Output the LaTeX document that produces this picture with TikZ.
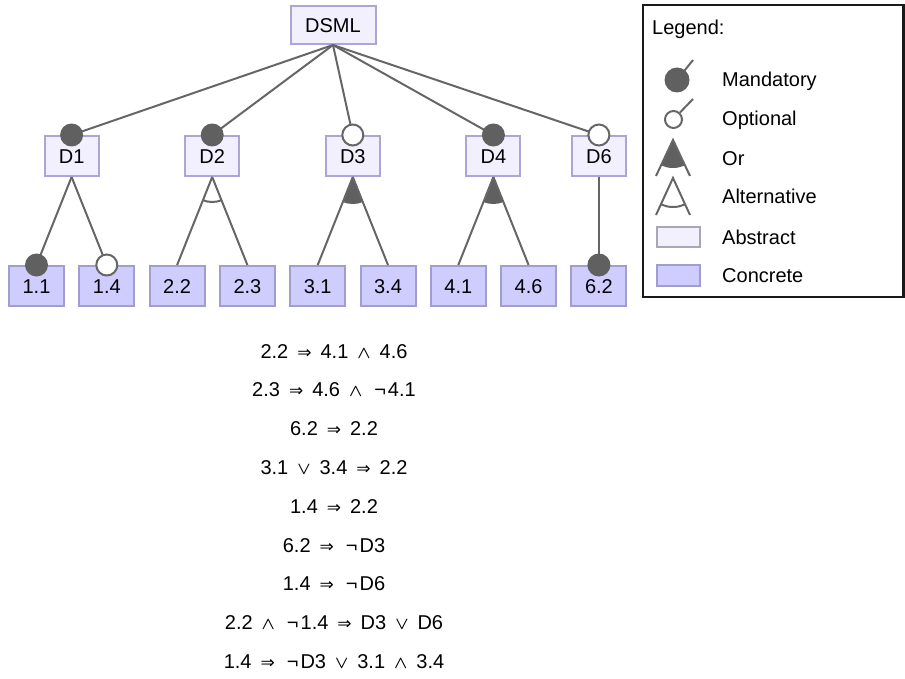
\documentclass[tikz,border=0pt]{standalone}
\usepackage{fontspec}
\setmainfont{Liberation Sans}
\newfontfamily\opfont{DejaVu Sans}
\usetikzlibrary{calc}

% logical operators used in the constraints
\newcommand\impop{\hspace{9pt}{\opfont\fontsize{17}{17}\selectfont ⇒}\hspace{9pt}}
\newcommand\andop{\hspace{9pt}{\fontsize{17.28}{18}\selectfont\boldmath$\wedge$}\hspace{9pt}}
\newcommand\orop{\hspace{9pt}{\fontsize{17.28}{18}\selectfont\boldmath$\vee$}\hspace{9pt}}
\newcommand\notop{\hspace{3pt}¬\hspace{2pt}}

\definecolor{edgegray}{HTML}{666666}
\definecolor{dotgray}{HTML}{606060}
\definecolor{absfill}{HTML}{F2F0FE}
\definecolor{absdraw}{HTML}{ACA6D8}
\definecolor{confill}{HTML}{CFCCFE}
\definecolor{condraw}{HTML}{A39DCF}
\definecolor{legabsdraw}{HTML}{A9A7B5}
\definecolor{legframe}{HTML}{1A1A1A}

\begin{document}
\begin{tikzpicture}[x=1pt,y=-1pt,
  every node/.style={font=\fontsize{20}{24}\selectfont},
  feat/.style={draw, line width=2pt, inner sep=0pt, text height=14.3pt, text depth=0pt,
    minimum height=40pt, minimum width=54pt},
  abstractfeat/.style={feat, fill=absfill, draw=absdraw},
  concretefeat/.style={feat, fill=confill, draw=condraw, minimum width=55pt},
  edge/.style={draw=edgegray, line width=2pt},
  mandatory/.style={fill=dotgray},
  optional/.style={fill=white, draw=edgegray, line width=2pt},
  constraint/.style={anchor=base, inner sep=0pt},
  legtext/.style={anchor=base west, inner sep=0pt},
]
\useasboundingbox (0,0) rectangle (905,679);

% ---------------- feature tree ----------------
\node[abstractfeat, minimum width=85pt, minimum height=38pt] (root) at (333,25) {DSML};

\node[abstractfeat] (d1) at (71.6,156) {D1};
\node[abstractfeat] (d2) at (212.2,156) {D2};
\node[abstractfeat] (d3) at (352.8,156) {D3};
\node[abstractfeat] (d4) at (493.4,156) {D4};
\node[abstractfeat] (d6) at (598.9,156) {D6};

\node[concretefeat] (l11) at (36.5,286) {1.1};
\node[concretefeat] (l14) at (106.8,286) {1.4};
\node[concretefeat] (l22) at (177.1,286) {2.2};
\node[concretefeat] (l23) at (247.4,286) {2.3};
\node[concretefeat] (l31) at (317.7,286) {3.1};
\node[concretefeat] (l34) at (388,286) {3.4};
\node[concretefeat] (l41) at (458.3,286) {4.1};
\node[concretefeat] (l46) at (528.6,286) {4.6};
\node[concretefeat] (l62) at (598.9,286) {6.2};

% or-groups: filled sector under the parent
\foreach \p/\a/\b in {d3/l31/l34, d4/l41/l46}{
  \begin{scope}
    \clip (\p.south) -- (\a.north) -- (\b.north) -- cycle;
    \fill[dotgray] (\p.south) circle[radius=27pt];
  \end{scope}
}
% alternative-group: open arc under D2
\begin{scope}
  \clip (d2.south) -- (l22.north) -- (l23.north) -- cycle;
  \draw[edge] (d2.south) circle[radius=25pt];
\end{scope}

% edges
\foreach \c in {d1,d2,d3,d4,d6}{ \draw[edge] (root.south) -- (\c.north); }
\draw[edge] (d1.south) -- (l11.north);
\draw[edge] (d1.south) -- (l14.north);
\draw[edge] (d2.south) -- (l22.north);
\draw[edge] (d2.south) -- (l23.north);
\draw[edge] (d3.south) -- (l31.north);
\draw[edge] (d3.south) -- (l34.north);
\draw[edge] (d4.south) -- (l41.north);
\draw[edge] (d4.south) -- (l46.north);
\draw[edge] (d6.south) -- (l62.north);

% mandatory / optional markers
\foreach \c in {d1,d2,d4,l11,l62}{ \fill[mandatory] (\c.north) circle[radius=11.5pt]; }
\foreach \c in {d3,d6,l14}{ \draw[optional] (\c.north) circle[radius=10.5pt]; }

% ---------------- cross-tree constraints ----------------
\node[constraint] (c1) at (334,358) {2.2\impop 4.1\andop 4.6};
\node[constraint] (c2) at (334,396.8) {2.3\impop 4.6\andop\notop 4.1};
\node[constraint] (c3) at (334,435.6) {6.2\impop 2.2};
\node[constraint] (c4) at (334,474.4) {3.1\orop 3.4\impop 2.2};
\node[constraint] (c5) at (334,513.2) {1.4\impop 2.2};
\node[constraint] (c6) at (334,552) {6.2\impop\notop D3};
\node[constraint] (c7) at (334,590.8) {1.4\impop\notop D6};
\node[constraint] (c8) at (334,629.6) {2.2\andop\notop 1.4\impop D3\orop D6};
\node[constraint] (c9) at (334,668.4) {1.4\impop\notop D3\orop 3.1\andop 3.4};

% ---------------- legend ----------------
\draw[legframe, line width=2.5pt] (643,5) rectangle (903.5,297);
\node[legtext] (legtitle) at (652,35) {Legend:};

% mandatory
\coordinate (mc) at (677,80);
\coordinate (mt) at (693,60);
\draw[edge] (mc) -- (mt);
\fill[mandatory] (mc) circle[radius=12.5pt];
\node[legtext] (lm) at (722,87) {Mandatory};

% optional
\coordinate (oc) at (673.5,119.5);
\coordinate (oe) at (680,112.5);
\coordinate (ot) at (693,99);
\draw[edge] (oe) -- (ot);
\draw[optional] (oc) circle[radius=8.5pt];
\node[legtext] (lo) at (722,126) {Optional};

% or
\coordinate (ra) at (673,140);
\coordinate (rl) at (656,176);
\coordinate (rr) at (690,176);
\begin{scope}
  \clip (ra) -- (rl) -- (rr) -- cycle;
  \fill[dotgray] (ra) circle[radius=28pt];
\end{scope}
\draw[edge] (rl) -- (ra) -- (rr);
\node[legtext] (lr) at (722,166) {Or};

% alternative
\coordinate (aa) at (673,178);
\coordinate (al) at (656,215);
\coordinate (ar) at (690,215);
\begin{scope}
  \clip (aa) -- (al) -- (ar) -- cycle;
  \draw[edge] (aa) circle[radius=29pt];
\end{scope}
\draw[edge] (al) -- (aa) -- (ar);
\node[legtext] (la) at (722,204) {Alternative};

% abstract / concrete swatches
\draw[line width=2pt, fill=absfill, draw=legabsdraw] (657,227) rectangle (700,247);
\node[legtext] (lab) at (722,244) {Abstract};
\draw[line width=2pt, fill=confill, draw=condraw] (657,265) rectangle (700,286);
\node[legtext] (lco) at (722,283) {Concrete};
\end{tikzpicture}
\end{document}
